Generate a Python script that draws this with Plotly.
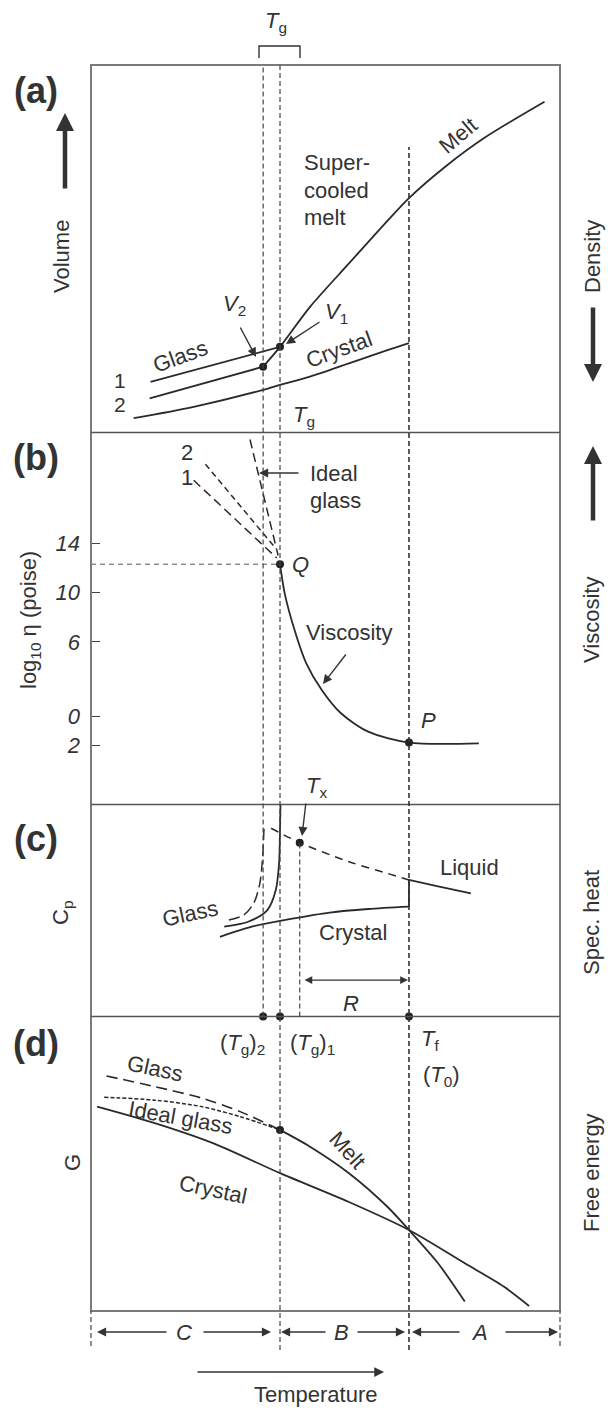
import plotly.graph_objects as go

W, H = 608, 1408
FONT = "Liberation Sans, Arial, sans-serif"
INK = "#2a2a2a"
TXT = "#333333"

# ---- characteristic temperatures (arbitrary units, 0-100 across the frame)
TG2, TG1, TX, TF = 36.7, 40.3, 44.5, 67.8

# ---- (a) volume vs temperature
a_melt_T = [36.7, 40.3, 46.7, 55.0, 63.2, 67.8, 75.6, 83.9, 96.7]
a_melt_V = [17.9, 23.3, 34.2, 46.0, 57.6, 63.8, 72.4, 80.2, 90.0]
a_glass1_T = [12.7, 40.3]
a_glass1_V = [13.8, 23.3]
a_glass2_T = [12.5, 36.7]
a_glass2_V = [9.3, 17.9]
a_crys_low_T = [9.1, 21.9, 36.7, 40.1]
a_crys_low_V = [3.9, 7.0, 11.6, 12.9]
a_crys_high_T = [40.1, 46.7, 55.0, 63.2, 67.8]
a_crys_high_V = [12.9, 15.2, 18.8, 22.4, 24.3]
a_points_T = [36.7, 40.3]          # V2, V1
a_points_V = [17.9, 23.3]

# ---- (b) log10 viscosity
b_visc_T = [40.3, 41.3, 43.4, 45.9, 49.2, 53.3, 59.1, 67.8, 82.7]
b_visc_L = [12.3, 9.94, 6.97, 4.27, 2.11, 0.22, -1.27, -2.15, -2.21]
b_line1_T = [21.9, 39.6]
b_line1_L = [19.1, 12.8]
b_line2_T = [24.4, 38.9]
b_line2_L = [20.4, 13.8]
b_ideal_T = [33.9, 39.9]
b_ideal_L = [22.4, 13.0]
b_points_T = [40.3, 67.8]          # Q, P
b_points_L = [12.3, -2.15]
b_tickvals = [14, 10, 6, 0, -2.4]
b_ticktext = ["14", "10", "6", "0", "2"]

# ---- (c) specific heat
c_glass1_T = [28.4, 33.5, 37.6, 39.4, 40.1, 40.3, 40.4]
c_glass1_C = [42.4, 44.7, 50.2, 59.7, 72.3, 87.8, 100.0]
c_glass2_T = [29.4, 32.6, 34.7, 36.0, 36.6, 36.9]
c_glass2_C = [45.5, 47.9, 53.4, 62.8, 75.4, 89.5]
c_liqdash_T = [38.4, 44.5, 55.0, 63.2, 67.8]
c_liqdash_C = [88.8, 82.0, 73.0, 67.5, 64.4]
c_crys_T = [27.5, 34.3, 42.6, 50.9, 59.1, 67.8]
c_crys_C = [37.6, 42.4, 46.0, 49.0, 50.7, 51.8]
c_step_T = [67.8, 67.8]
c_step_C = [51.8, 64.4]
c_liq_T = [67.8, 74.0, 81.0]
c_liq_C = [64.4, 61.4, 58.1]
c_tx_C = 82.0
c_R_C = 17.2

# ---- (d) free energy
d_melt_T = [40.3, 46.7, 55.0, 63.2, 67.8, 74.0, 79.7]
d_melt_G = [61.5, 55.8, 46.8, 35.4, 27.5, 16.2, 3.2]
d_crys_T = [1.3, 13.6, 26.0, 40.3, 55.0, 67.8, 79.7, 88.0, 93.4]
d_crys_G = [69.4, 63.8, 57.0, 46.8, 37.0, 27.5, 16.2, 8.3, 1.7]
d_glass_T = [3.3, 13.6, 23.6, 31.8, 40.3]
d_glass_G = [79.8, 76.2, 72.3, 67.7, 61.5]
d_ideal_T = [2.8, 13.6, 23.6, 31.8, 40.3]
d_ideal_G = [72.6, 71.6, 69.4, 66.0, 61.5]

# ---- frame geometry (pixels)
LEFT, RIGHT = 91, 560
TOP, S_AB, S_BC, S_CD, BOTTOM = 65, 432.5, 804.5, 1016.5, 1311


def px(x):
    return x / W


def py(y):
    return 1 - y / H


fig = go.Figure()


def line(T, Y, ax="y", dash="solid", width=1.8, color=INK, smooth=True):
    shape = "spline" if (smooth and len(T) > 2) else "linear"
    fig.add_trace(go.Scatter(x=T, y=Y, xaxis="x", yaxis=ax, mode="lines",
                             line=dict(color=color, width=width, dash=dash,
                                       shape=shape, smoothing=0.8),
                             showlegend=False, hoverinfo="skip", cliponaxis=False))


def dots(T, Y, ax="y"):
    fig.add_trace(go.Scatter(x=T, y=Y, xaxis="x", yaxis=ax, mode="markers",
                             marker=dict(color="#222", size=8),
                             showlegend=False, hoverinfo="skip", cliponaxis=False))


# (a)
line(a_melt_T, a_melt_V)
line(a_glass1_T, a_glass1_V)
line(a_glass2_T, a_glass2_V)
line(a_crys_low_T, a_crys_low_V)
line(a_crys_high_T, a_crys_high_V)
dots(a_points_T, a_points_V)

# (b)
line(b_visc_T, b_visc_L, "y2")
line(b_line1_T, b_line1_L, "y2", dash="9px,5px", width=1.5)
line(b_line2_T, b_line2_L, "y2", dash="6px,4px", width=1.5)
line(b_ideal_T, b_ideal_L, "y2", dash="9px,5px", width=1.5)
line([0, b_points_T[0]], [b_points_L[0]] * 2, "y2", dash="5px,4px", width=1.0, color="#555")
dots(b_points_T, b_points_L, "y2")

# (c)
line(c_glass1_T, c_glass1_C, "y3")
line(c_glass2_T, c_glass2_C, "y3", dash="11px,5px", width=1.5)
line(c_liqdash_T, c_liqdash_C, "y3", dash="8px,6px", width=1.5)
line(c_crys_T, c_crys_C, "y3")
line(c_step_T, c_step_C, "y3")
line(c_liq_T, c_liq_C, "y3")
dots([TX], [c_tx_C], "y3")
dots([TG2, TG1, TF], [0, 0, 0], "y3")

# (d)
line(d_melt_T, d_melt_G, "y4")
line(d_crys_T, d_crys_G, "y4")
line(d_glass_T, d_glass_G, "y4", dash="11px,6px", width=1.6)
line(d_ideal_T, d_ideal_G, "y4", dash="4px,2px", width=1.5)
dots([TG1], [d_melt_G[0]], "y4")

shapes = []
# frame and panel separators
shapes.append(dict(type="rect", xref="paper", yref="paper", x0=px(LEFT), x1=px(RIGHT),
                   y0=py(BOTTOM), y1=py(TOP), line=dict(color="#7a7a7a", width=2)))
for s in (S_AB, S_BC, S_CD):
    shapes.append(dict(type="line", xref="paper", yref="paper", x0=px(LEFT), x1=px(RIGHT),
                       y0=py(s), y1=py(s), line=dict(color="#555", width=1.6)))
# temperature markers
vd = dict(color="#444", width=1.2, dash="5px,3px")
shapes.append(dict(type="line", xref="x", yref="paper", x0=TG2, x1=TG2,
                   y0=py(S_CD), y1=py(TOP), line=vd))
shapes.append(dict(type="line", xref="x", yref="paper", x0=TG1, x1=TG1,
                   y0=py(1350), y1=py(TOP), line=vd))
shapes.append(dict(type="line", xref="x", yref="paper", x0=TF, x1=TF,
                   y0=py(1350), y1=py(147), line=dict(color="#333", width=1.6, dash="5px,3px")))
shapes.append(dict(type="line", xref="x", yref="y3", x0=TX, x1=TX,
                   y0=0, y1=c_tx_C, line=vd))
for xe in (LEFT, RIGHT):
    shapes.append(dict(type="line", xref="paper", yref="paper", x0=px(xe), x1=px(xe),
                       y0=py(1346), y1=py(BOTTOM), line=vd))
# Tg bracket above the frame
shapes.append(dict(type="path", xref="paper", yref="paper",
                   path=f"M {px(259)},{py(58)} L {px(259)},{py(46)} L {px(300)},{py(46)} L {px(300)},{py(58)}",
                   line=dict(color="#333", width=1.4)))

ann = []


def text(x, y, t, size=22, angle=0, italic=False, bold=False, anchor="center"):
    ann.append(dict(x=px(x), y=py(y), xref="paper", yref="paper", text=t, showarrow=False,
                    textangle=angle, xanchor=anchor, yanchor="middle",
                    font=dict(family=FONT, size=size, color=TXT,
                              style="italic" if italic else "normal",
                              weight="bold" if bold else "normal")))


def arrow(x0, y0, x1, y1, width=1.4, size=1.3, head=2, color="#333"):
    ann.append(dict(x=px(x1), y=py(y1), xref="paper", yref="paper", ax=x0 - x1, ay=y0 - y1,
                    axref="pixel", ayref="pixel", text="", showarrow=True,
                    arrowhead=head, arrowsize=size, arrowwidth=width, arrowcolor=color))


# panel letters
for lab, yy in (("(a)", 90), ("(b)", 457), ("(c)", 838), ("(d)", 1043)):
    text(36, yy, lab, size=36, bold=True)

# side quantities
text(62, 257, "Volume", angle=-90)
arrow(65, 190, 65, 113, width=4.5, size=0.8)
text(593, 257, "Density", angle=-90)
arrow(593, 306, 593, 382, width=4.5, size=0.8)
text(30, 620, "log<sub>10</sub> η (poise)", angle=-90)
text(591, 620, "Viscosity", angle=-90)
arrow(593, 522, 593, 446, width=4.5, size=0.8)
text(62, 913, "C<sub>p</sub>", angle=-90)
text(591, 923, "Spec. heat", angle=-90)
text(72, 1163, "G", angle=-90)
text(591, 1173, "Free energy", angle=-90)

# (a) labels
text(276, 22, "<i>T</i><sub>g</sub>")
text(302, 163, "Super-", anchor="left")
text(302, 190, "cooled", anchor="left")
text(302, 218, "melt", anchor="left")
text(458, 135, "Melt", angle=-40)
text(180, 356, "Glass", angle=-20)
text(339, 350, "Crystal", angle=-20)
text(120, 381, "1", size=21)
text(120, 405, "2", size=21)
text(234, 305, "<i>V</i><sub>2</sub>")
arrow(239.5, 326, 256, 357)
text(336, 313, "<i>V</i><sub>1</sub>")
arrow(321, 321, 286, 344)
text(304, 416, "<i>T</i><sub>g</sub>")

# (b) labels
text(187, 452, "2")
text(187, 477, "1")
text(308, 473, "Ideal", anchor="left")
text(308, 500, "glass", anchor="left")
arrow(300, 473, 259, 473)
text(300, 564, "Q", italic=True)
text(428, 720, "P", italic=True)
text(349, 632, "Viscosity")
arrow(347, 653, 323, 684)

# (c) labels
text(316, 787, "<i>T</i><sub>x</sub>")
arrow(306, 802, 302, 836)
text(190, 913, "Glass", angle=-12)
text(353, 932, "Crystal")
text(469, 867, "Liquid")
ann.append(dict(x=TF, y=c_R_C, xref="x", yref="y3", ax=302 - 409, ay=0,
                axref="pixel", ayref="pixel", text="", showarrow=True, arrowhead=2,
                startarrowhead=2, arrowsize=1.3, startarrowsize=1.3, arrowwidth=1.2,
                arrowcolor="#333", arrowside="end+start", standoff=1, startstandoff=1))
text(351, 1003, "R", italic=True)

# (d) labels
text(242, 1044, "(<i>T</i><sub>g</sub>)<sub>2</sub>")
text(312, 1044, "(<i>T</i><sub>g</sub>)<sub>1</sub>")
text(430, 1040, "<i>T</i><sub>f</sub>")
text(441, 1076, "(<i>T</i><sub>0</sub>)")
text(155, 1068, "Glass", angle=12)
text(180, 1117, "Ideal glass", angle=10)
text(348, 1150, "Melt", angle=48)
text(213, 1189, "Crystal", angle=12)

# temperature ranges
text(184, 1332, "C", italic=True)
arrow(168, 1332, 97, 1332)
arrow(202, 1332, 271, 1332)
text(341, 1332, "B", italic=True)
arrow(327, 1332, 281, 1332)
arrow(356, 1332, 405, 1332)
text(479, 1332, "A", italic=True)
arrow(461, 1332, 412, 1332)
arrow(504, 1332, 558, 1332)
arrow(196, 1372, 384, 1372, width=1.5, size=1.3)
text(316, 1394, "Temperature")

fig.update_layout(
    width=W, height=H, autosize=False,
    margin=dict(l=0, r=0, t=0, b=0),
    paper_bgcolor="white", plot_bgcolor="rgba(0,0,0,0)",
    shapes=shapes, annotations=ann, showlegend=False,
    xaxis=dict(domain=[px(LEFT), px(RIGHT)], range=[0, 100], visible=False, fixedrange=True),
    yaxis=dict(domain=[py(S_AB), py(TOP)], range=[0, 100], visible=False, anchor="x"),
    yaxis2=dict(domain=[py(S_BC), py(S_AB)], range=[-7.17, 22.97], anchor="x",
                showgrid=False, zeroline=False, showline=False,
                tickvals=b_tickvals, ticktext=b_ticktext, ticks="inside", ticklen=9,
                tickwidth=1.2, tickcolor="#444", ticklabelstandoff=10,
                tickfont=dict(family=FONT, size=22, color=TXT, style="italic")),
    yaxis3=dict(domain=[py(S_CD), py(S_BC)], range=[0, 100], visible=False, anchor="x"),
    yaxis4=dict(domain=[py(BOTTOM), py(S_CD)], range=[0, 100], visible=False, anchor="x"),
)

fig.write_html("out.html")
